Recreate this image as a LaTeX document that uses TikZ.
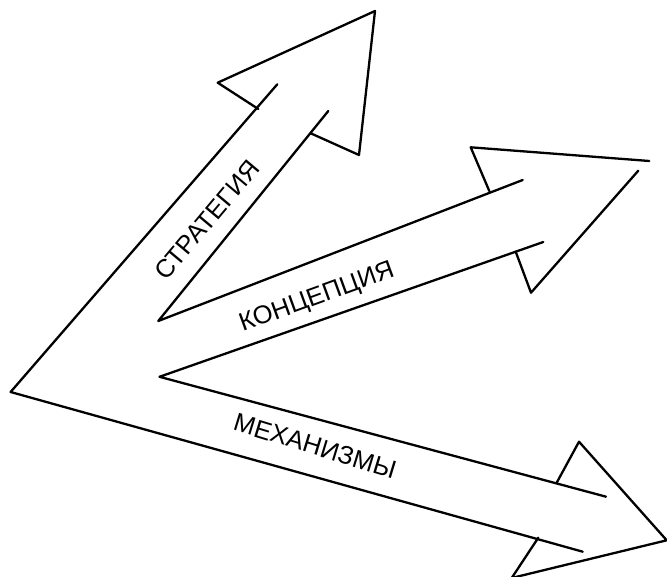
\documentclass[tikz,border=0pt]{standalone}
\usepackage{fontspec}
\setmainfont{Liberation Sans}
\tikzset{
  outline/.style={line width=2.3pt, line cap=round, line join=round},
  label/.style={font=\fontsize{25.5}{25.5}\selectfont, inner sep=0pt}
}
\begin{document}
\begin{tikzpicture}[x=1pt,y=-1pt]
\useasboundingbox (0,0) rectangle (667,577);
% key points
\coordinate (O) at (10.6,392);      % outer left corner
\coordinate (I1) at (158.3,321);    % inner corner strategy/concept
\coordinate (I2) at (159.5,376.8);  % inner corner concept/mechanisms
% strategy arrow
\coordinate (SLm) at (258.3,109);
\coordinate (SLe) at (277.3,84.3);
\coordinate (SRm) at (310.7,133.3);
\coordinate (SRe) at (328.3,111);
\coordinate (SB1) at (217.7,82.7);
\coordinate (ST) at (375,11);
\coordinate (SB2) at (359,155);
% concept arrow
\coordinate (CUm) at (489.3,191);
\coordinate (CUe) at (522.7,180);
\coordinate (CLm) at (515.7,251.7);
\coordinate (CLe) at (543.3,242);
\coordinate (CB1) at (470.7,147.3);
\coordinate (CT1) at (649.3,161);
\coordinate (CT2) at (638.3,170.7);
\coordinate (CB2) at (531,292.7);
% mechanisms arrow
\coordinate (MUm) at (556.7,482.7);
\coordinate (MUe) at (606,496.7);
\coordinate (MLm) at (538.3,537.7);
\coordinate (MLe) at (582.7,551.7);
\coordinate (MB1) at (579,441.7);
\coordinate (MT) at (666.7,540.3);
\coordinate (MB2) at (511.7,578);

\draw[outline] (SLe) -- (O) -- (MLe);
\draw[outline] (SRe) -- (I1) -- (CUe);
\draw[outline] (CLe) -- (I2) -- (MUe);
\draw[outline] (SLm) -- (SB1) -- (ST) -- (SB2) -- (SRm);
\draw[outline] (CUm) -- (CB1) -- (CT1);
\draw[outline] (CT2) -- (CB2) -- (CLm);
\draw[outline] (MUm) -- (MB1) -- (MT) -- (MB2);
\draw[outline] (MLm) -- (MB2);

\node[label, rotate=50] (ts) at (207,220) {СТРАТЕГИЯ};
\node[label, rotate=20] (tc) at (317,298) {КОНЦЕПЦИЯ};
\node[label, rotate=-17] (tm) at (315,446) {МЕХАНИЗМЫ};
\end{tikzpicture}
\end{document}
